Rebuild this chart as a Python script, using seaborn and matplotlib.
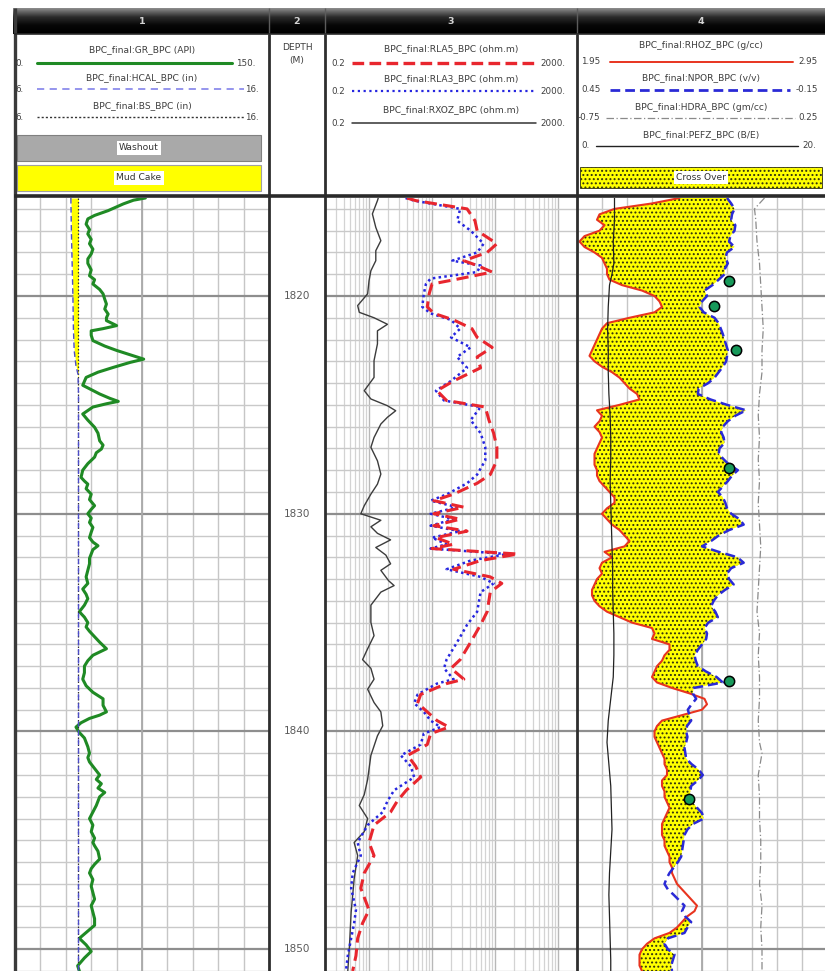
import numpy as np
import matplotlib
matplotlib.use("Agg")
import matplotlib.pyplot as plt
import seaborn as sns
from matplotlib.patches import Rectangle
from matplotlib.colors import LinearSegmentedColormap
from matplotlib.ticker import LogLocator, MultipleLocator, FixedLocator, NullFormatter

DEPTH_LABELS = [1820, 1830, 1840, 1850]

GR_DEPTH = [1815.5, 1815.6, 1815.77, 1816.08, 1816.3, 1816.46, 1816.7, 1816.95, 1817.15, 1817.4,
            1817.6, 1817.85, 1818.07, 1818.3, 1818.5, 1818.8, 1819.07, 1819.25, 1819.45, 1819.7,
            1819.9, 1820.15, 1820.37, 1820.6, 1820.83, 1821.0, 1821.13, 1821.36, 1821.5, 1821.6,
            1821.8, 1822.05, 1822.3, 1822.5, 1822.75, 1822.9, 1823.05, 1823.28, 1823.5, 1823.74,
            1824.1, 1824.3, 1824.5, 1824.7, 1824.84, 1824.95, 1825.1, 1825.42, 1825.7, 1826.03,
            1826.3, 1826.65, 1826.85, 1827.03, 1827.2, 1827.4, 1827.7, 1828.0, 1828.33, 1828.5,
            1828.64, 1828.85, 1829.1, 1829.35, 1829.63, 1829.8, 1830.0, 1830.2, 1830.4, 1830.63,
            1830.85, 1831.1, 1831.3, 1831.47, 1831.65, 1831.85, 1832.05, 1832.3, 1832.6, 1832.9,
            1833.2, 1833.46, 1833.7, 1833.9, 1834.2, 1834.5, 1834.75, 1835.0, 1835.2, 1835.4,
            1835.65, 1835.9, 1836.05, 1836.2, 1836.35, 1836.5, 1836.75, 1837.0, 1837.3, 1837.6,
            1837.9, 1838.2, 1838.35, 1838.5, 1838.8, 1839.1, 1839.25, 1839.4, 1839.6, 1839.8,
            1840.05, 1840.3, 1840.5, 1840.7, 1841.0, 1841.2, 1841.4, 1841.7, 1842.0, 1842.2,
            1842.4, 1842.6, 1842.8, 1843.0, 1843.2, 1843.4, 1843.7, 1844.0, 1844.3, 1844.6,
            1844.9, 1845.1, 1845.25, 1845.5, 1845.86, 1846.1, 1846.3, 1846.5, 1846.8, 1847.1,
            1847.4, 1847.7, 1848.0, 1848.3, 1848.6, 1848.9, 1849.1, 1849.3, 1849.5, 1849.8,
            1850.1, 1850.4, 1850.76, 1851.0]
GR = [77, 70, 64, 55, 47, 43, 42, 44, 43, 45,
      44, 46, 45, 43, 43, 45, 44, 47, 46, 50,
      52, 53, 54, 53, 55, 54, 54, 60, 52, 45,
      45, 46, 53, 60, 70, 76, 68, 58, 49, 42,
      40, 45, 50, 56, 61, 54, 46, 40, 43, 47,
      49, 50, 52, 51, 48, 47, 43, 40, 39, 41,
      43, 42, 45, 44, 47, 45, 43, 45, 44, 46,
      45, 44, 46, 49, 46, 45, 44, 44, 43, 42,
      43, 40, 42, 43, 41, 38, 41, 43, 42, 44,
      47, 50, 52, 54, 50, 46, 43, 41, 41, 40,
      42, 46, 49, 52, 52, 54, 50, 44, 39, 36,
      38, 41, 42, 43, 44, 43, 44, 47, 50, 48,
      51, 49, 53, 50, 49, 48, 46, 44, 46, 45,
      47, 46, 47, 49, 50, 47, 45, 44, 46, 45,
      46, 47, 45, 46, 47, 47, 44, 41, 38, 42,
      45, 41, 37, 38]

HCAL_DEPTH = [1815.5, 1817.0, 1818.5, 1820.0, 1821.5, 1822.5, 1823.2, 1823.6, 1824.5, 1851.0]
HCAL = [8.2, 8.22, 8.25, 8.28, 8.3, 8.33, 8.4, 8.48, 8.5, 8.5]
BS_DEPTH = [1815.5, 1851.0]
BS = [8.5, 8.5]

RES_DEPTH = [1815.5, 1815.62, 1816.0, 1816.54, 1817.0, 1817.6, 1818.0, 1818.38, 1818.6, 1818.9,
             1819.2, 1819.45, 1819.9, 1820.5, 1820.8, 1821.1, 1821.5, 1821.9, 1822.36, 1822.8,
             1823.3, 1823.9, 1824.35, 1824.8, 1825.1, 1825.7, 1826.3, 1826.95, 1827.55, 1828.2,
             1828.6, 1829.1, 1829.4, 1829.7, 1830.0, 1830.25, 1830.55, 1830.8, 1831.1, 1831.4,
             1831.6, 1831.85, 1832.15, 1832.55, 1832.9, 1833.2, 1833.6, 1834.5, 1835.1, 1835.9,
             1836.7, 1837.1, 1837.6, 1837.8, 1838.3, 1838.7, 1839.1, 1839.5, 1839.8, 1840.1,
             1840.6, 1841.1, 1841.6, 1842.1, 1842.7, 1843.2, 1843.7, 1844.3, 1845.1, 1845.7,
             1846.5, 1847.2, 1848.2, 1848.8, 1849.5, 1850.3, 1851.0]
RLA5 = [4.0, 5.5, 36, 48, 52, 107, 75, 32, 52, 90,
        28, 10, 9, 8.4, 10.7, 22, 43, 52, 90, 52,
        59, 22, 12, 17, 70, 80, 95, 107, 107, 84,
        52, 22, 10.7, 32, 10.7, 28, 10.7, 36, 11.5, 22,
        10, 230, 59, 22, 84, 128, 84, 75, 59, 41,
        28, 20, 32, 17, 6.6, 5.9, 8.4, 12, 18.5, 9.5,
        8.4, 4.1, 5.5, 6.6, 3.9, 2.8, 2.2, 1.2, 1.0, 1.2,
        0.84, 0.74, 1.0, 0.79, 0.66, 0.62, 0.55]
RLA3 = [3.8, 5.2, 28, 25, 41, 66, 52, 21, 59, 52,
        9.5, 8, 7.4, 7, 9.5, 20, 28, 20, 41, 25,
        36, 20, 11.5, 15.5, 59, 41, 59, 70, 70, 52,
        36, 17.4, 9.5, 25, 9.5, 22, 9.5, 28, 10, 17,
        9.5, 155, 41, 17, 59, 95, 59, 52, 36, 25,
        17, 15.5, 22, 12, 5.9, 5.2, 7.4, 9.5, 13.6, 7.4,
        6.6, 3.2, 4.6, 5.2, 2.5, 1.96, 1.65, 0.95, 0.66, 0.74,
        0.55, 0.52, 0.62, 0.58, 0.52, 0.46, 0.43]

RXOZ_DEPTH = [1815.5, 1815.62, 1816.23, 1816.85, 1817.46, 1817.92, 1818.38, 1818.84, 1819.3, 1819.9,
              1820.44, 1820.75, 1821.0, 1821.3, 1821.6, 1822.2, 1822.97, 1823.74, 1824.35, 1824.73,
              1825.04, 1825.27, 1825.57, 1825.88, 1826.5, 1826.95, 1827.57, 1828.18, 1828.64, 1829.1,
              1829.63, 1830.0, 1830.3, 1830.6, 1830.9, 1831.2, 1831.55, 1831.9, 1832.3, 1832.6,
              1833.08, 1833.3, 1833.6, 1834.2, 1834.99, 1835.6, 1836.2, 1836.7, 1837.1, 1837.6,
              1838.06, 1838.67, 1839.1, 1839.74, 1840.2, 1841.1, 1842.2, 1842.9, 1843.4, 1844.0,
              1844.6, 1845.1, 1845.7, 1846.78, 1848.3, 1849.8, 1851.0]
RXOZ = [1.4, 1.36, 1.13, 1.28, 1.54, 1.28, 1.28, 1.07, 1.0, 0.95,
        0.66, 0.7, 1.2, 1.96, 1.36, 1.36, 1.2, 1.2, 0.84, 1.07,
        1.96, 2.65, 1.96, 1.54, 1.2, 1.07, 1.36, 1.54, 1.36, 1.07,
        0.84, 0.74, 1.54, 1.07, 1.36, 2.2, 1.28, 1.85, 2.2, 1.54,
        2.05, 2.5, 1.54, 1.07, 1.07, 1.2, 0.95, 0.79, 1.07, 1.2,
        0.95, 1.2, 1.54, 1.65, 1.36, 1.07, 0.95, 0.84, 0.7, 0.95,
        0.84, 0.58, 0.66, 0.58, 0.52, 0.49, 0.46]

# track 4 curves share one depth column, 0.25 m apart
DEPTH4 = np.arange(1815.5, 1851.0 + 0.125, 0.25)
RHOZ = [2.36, 2.25,
        2.10, 2.04, 2.03, 2.06,   # 1816
        2.04, 1.98, 1.96, 1.98,
        2.02, 2.05, 2.06, 2.07,
        2.07, 2.08, 2.13, 2.21,
        2.26, 2.28, 2.29, 2.26,   # 1820
        2.16, 2.07, 2.05, 2.04,
        2.03, 2.02, 2.01, 2.00,
        2.02, 2.05, 2.09, 2.12,
        2.14, 2.16, 2.19, 2.20,
        2.12, 2.03, 2.05, 2.04,   # 1825
        2.02, 2.04, 2.05, 2.04,
        2.03, 2.02, 2.02, 2.02,
        2.03, 2.03, 2.04, 2.06,
        2.08, 2.10, 2.10, 2.07,
        2.05, 2.07, 2.09, 2.12,   # 1830
        2.14, 2.16, 2.14, 2.06,
        2.09, 2.05, 2.04, 2.05,
        2.03, 2.02, 2.01, 2.01,
        2.02, 2.04, 2.07, 2.12,
        2.17, 2.25, 2.26, 2.25,   # 1835
        2.32, 2.32, 2.30, 2.29,
        2.27, 2.26, 2.25, 2.27,
        2.33, 2.40, 2.46, 2.47,
        2.45, 2.37, 2.29, 2.27,
        2.26, 2.26, 2.27, 2.28,   # 1840
        2.29, 2.30, 2.30, 2.31,
        2.31, 2.29, 2.29, 2.30,
        2.30, 2.31, 2.32, 2.31,
        2.30, 2.29, 2.29, 2.29,
        2.30, 2.30, 2.31, 2.32,   # 1845
        2.32, 2.33, 2.33, 2.34,
        2.35, 2.37, 2.39, 2.41,
        2.43, 2.42, 2.39, 2.37,
        2.35, 2.32, 2.26, 2.23,
        2.21, 2.20, 2.20, 2.20,   # 1850
        2.21]
NPOR = [0.090, 0.080,
        0.072, 0.078, 0.080, 0.070,   # 1816
        0.072, 0.082, 0.085, 0.072,
        0.090, 0.094, 0.088, 0.095,
        0.096, 0.110, 0.125, 0.144,
        0.138, 0.150, 0.156, 0.146,   # 1820
        0.120, 0.110, 0.105, 0.100,
        0.096, 0.092, 0.088, 0.090,
        0.092, 0.100, 0.110, 0.120,
        0.135, 0.158, 0.160, 0.130,
        0.090, 0.044, 0.070, 0.088,   # 1825
        0.100, 0.104, 0.098, 0.096,
        0.108, 0.110, 0.098, 0.085,
        0.064, 0.078, 0.088, 0.100,
        0.112, 0.100, 0.094, 0.090,
        0.080, 0.060, 0.050, 0.085,   # 1830
        0.110, 0.128, 0.150, 0.110,
        0.065, 0.050, 0.080, 0.090,
        0.085, 0.074, 0.095, 0.112,
        0.122, 0.128, 0.118, 0.112,
        0.135, 0.144, 0.138, 0.140,   # 1835
        0.150, 0.160, 0.168, 0.165,
        0.160, 0.140, 0.115, 0.100,
        0.170, 0.172, 0.164, 0.175,
        0.184, 0.180, 0.176, 0.186,
        0.188, 0.185, 0.188, 0.192,   # 1840
        0.190, 0.188, 0.175, 0.158,
        0.148, 0.160, 0.176, 0.178,
        0.180, 0.172, 0.162, 0.150,
        0.146, 0.172, 0.185, 0.192,
        0.194, 0.196, 0.198, 0.200,   # 1845
        0.208, 0.218, 0.228, 0.235,
        0.240, 0.232, 0.218, 0.205,
        0.192, 0.198, 0.190, 0.176,
        0.185, 0.192, 0.232, 0.240,
        0.232, 0.216, 0.220, 0.224,   # 1850
        0.222]

HDRA_DEPTH = [1815.5, 1816.0, 1816.5, 1817.5, 1818.5, 1819.5, 1820.5, 1821.5, 1822.5, 1823.5,
              1824.5, 1825.5, 1826.5, 1827.5, 1828.5, 1829.5, 1830.5, 1831.5, 1832.5, 1833.5,
              1834.5, 1835.5, 1836.5, 1837.5, 1838.5, 1839.5, 1840.5, 1841.0, 1842.0, 1843.0,
              1844.0, 1845.0, 1846.0, 1847.0, 1848.0, 1849.0, 1850.0, 1851.0]
HDRA = [0.00, -0.04, -0.035, -0.03, -0.02, -0.015, -0.01, -0.005, -0.01, -0.01,
        -0.02, -0.025, -0.02, -0.025, -0.02, -0.025, -0.02, -0.015, -0.02, -0.025,
        -0.03, -0.02, -0.025, -0.02, -0.02, -0.025, -0.02, -0.01, -0.025, -0.02,
        -0.02, -0.015, -0.015, -0.02, -0.01, -0.015, -0.01, -0.01]

PEFZ_DEPTH = [1815.5, 1816.5, 1817.5, 1818.5, 1819.0, 1819.5, 1820.5, 1821.5, 1822.5, 1823.5,
              1824.5, 1825.5, 1826.5, 1827.5, 1828.5, 1829.5, 1830.5, 1831.5, 1832.5, 1833.5,
              1834.5, 1835.5, 1836.5, 1837.5, 1838.5, 1839.5, 1840.5, 1841.5, 1842.5, 1843.5,
              1844.5, 1845.5, 1846.5, 1847.5, 1848.5, 1849.5, 1850.5, 1851.0]
PEFZ = [3.0, 3.0, 2.9, 2.95, 2.8, 2.6, 2.5, 2.45, 2.5, 2.5,
        2.55, 2.65, 2.7, 2.7, 2.65, 2.7, 2.75, 2.8, 2.85, 2.85,
        2.9, 2.95, 2.95, 2.9, 2.7, 2.5, 2.4, 2.55, 2.7, 2.75,
        2.8, 2.7, 2.6, 2.55, 2.6, 2.65, 2.7, 2.7]

CORE_DEPTH = [1819.3, 1820.45, 1822.5, 1827.88, 1837.67, 1843.1]
CORE_NPOR = [0.085, 0.121, 0.068, 0.085, 0.085, 0.181]

# ---------------- figure ----------------
sns.set_style("white")
plt.rcParams["font.family"] = ["DejaVu Sans"]
plt.rcParams["hatch.linewidth"] = 0.9

W, H = 825, 971
fig = plt.figure(figsize=(W / 100, H / 100), dpi=100)
TOP, BOT = 1815.5, 1851.0
Y0, Y1 = 198, 971
DOTS = "#2e2e10"


def rect(x0, y0, x1, y1):
    return [x0 / W, 1 - y1 / H, (x1 - x0) / W, (y1 - y0) / H]


def track(x0, x1):
    ax = fig.add_axes(rect(x0, Y0, x1, Y1))
    ax.set_ylim(BOT, TOP)
    ax.yaxis.set_major_locator(FixedLocator(DEPTH_LABELS))
    ax.yaxis.set_minor_locator(MultipleLocator(1))
    ax.tick_params(which="both", length=0, labelbottom=False, labelleft=False)
    for s in ax.spines.values():
        s.set_visible(False)
    return ax


def depth_grid(ax):
    ax.grid(which="major", axis="y", color="#8e8e8e", lw=1.6)
    ax.grid(which="minor", axis="y", color="#c9c9c9", lw=1.0)


def twin(ax, lims):
    t = ax.twiny()
    t.set_xlim(*lims)
    t.tick_params(which="both", length=0, labeltop=False, labelbottom=False)
    for s in t.spines.values():
        s.set_visible(False)
    return t


def curve(ax, x, y, **kw):
    sns.lineplot(x=x, y=y, ax=ax, orient="y", sort=False, estimator=None, **kw)


# track 1 : GR + caliper
ax1 = track(15, 269)
ax1.set_xlim(0, 150)
ax1.set_xticks(np.linspace(0, 150, 11))
ax1.grid(which="major", axis="x", color="#c6c6c6", lw=1.0)
ax1.axvline(75, color="#a9a9a9", lw=1.3, zorder=0.6)
depth_grid(ax1)
curve(ax1, GR, GR_DEPTH, color="#1f8a24", linewidth=2.2)
ax1c = twin(ax1, (6, 16))
hc = np.array(HCAL)
ax1c.fill_betweenx(HCAL_DEPTH, hc, BS[0], where=hc < BS[0], interpolate=True,
                   color="#ffff00", lw=0)
curve(ax1c, BS, BS_DEPTH, color="#333333", linewidth=0.9, linestyle=(0, (1.2, 1.6)))
curve(ax1c, HCAL, HCAL_DEPTH, color="#4c4cc8", linewidth=1.0, linestyle=(0, (4, 2.5)))

# track 2 : depth
ax2 = track(269, 325)
for d in DEPTH_LABELS:
    ax2.text(0.5, d, str(d), transform=ax2.get_yaxis_transform(), ha="center",
             va="center", fontsize=7.5, color="#5a5a5a")

# track 3 : resistivity
ax3 = track(325, 577)
ax3.set_xscale("log")
ax3.set_xlim(0.2, 2000)
curve(ax3, RXOZ, RXOZ_DEPTH, color="#3c3c3c", linewidth=1.0)
curve(ax3, RLA3, RES_DEPTH, color="#2626e0", linewidth=1.8, linestyle=(0, (1, 1.3)))
curve(ax3, RLA5, RES_DEPTH, color="#e8262e", linewidth=2.2, linestyle=(0, (4, 2)))
ax3.set_xlim(0.2, 2000)
ax3.xaxis.set_major_locator(LogLocator(base=10, numticks=12))
ax3.xaxis.set_minor_locator(LogLocator(base=10, subs=np.arange(2, 10), numticks=12))
ax3.xaxis.set_minor_formatter(NullFormatter())
ax3.grid(which="major", axis="x", color="#b8b8b8", lw=1.0)
ax3.grid(which="minor", axis="x", color="#d3d3d3", lw=0.9)
depth_grid(ax3)

# track 4 : density / neutron
ax4 = track(577, 827)
ax4.set_xlim(1.95, 2.95)
ax4.set_xticks(np.linspace(1.95, 2.95, 11))
ax4.grid(which="major", axis="x", color="#c6c6c6", lw=1.0)
ax4.axvline(2.45, color="#a9a9a9", lw=1.3, zorder=0.6)
depth_grid(ax4)
ax4n = twin(ax4, (0.45, -0.15))
ax4h = twin(ax4, (-0.75, 0.25))
ax4p = twin(ax4, (0, 20))

# neutron expressed on the density scale, for the cross-over shading
n_lo, n_hi = ax4n.get_xlim()
r_lo, r_hi = ax4.get_xlim()
rho = np.array(RHOZ)
npor_on_rho = r_lo + (np.array(NPOR) - n_lo) / (n_hi - n_lo) * (r_hi - r_lo)
ax4.fill_betweenx(DEPTH4, rho, npor_on_rho, where=rho < npor_on_rho, interpolate=True,
                  facecolor="#ffff00", edgecolor=DOTS, lw=0, hatch="....", zorder=1)
curve(ax4, RHOZ, DEPTH4, color="#e8341f", linewidth=1.5)
curve(ax4n, NPOR, DEPTH4, color="#2a2ad6", linewidth=1.8, linestyle=(0, (4, 2)))
sns.scatterplot(x=CORE_NPOR, y=CORE_DEPTH, ax=ax4n, s=55, color="#17995a",
                edgecolor="black", linewidth=1.1, zorder=6, legend=False)
curve(ax4h, HDRA, HDRA_DEPTH, color="#8a8a8a", linewidth=0.9, linestyle=(0, (6, 2, 1, 2)))
curve(ax4p, PEFZ, PEFZ_DEPTH, color="#222222", linewidth=0.9)

for a in (ax1, ax2, ax3, ax4):
    a.set_ylim(BOT, TOP)
ax1.set_xlim(0, 150)
ax1c.set_xlim(6, 16)
ax3.set_xlim(0.2, 2000)
ax4.set_xlim(1.95, 2.95)
ax4n.set_xlim(0.45, -0.15)
ax4h.set_xlim(-0.75, 0.25)
ax4p.set_xlim(0, 20)

# ---------------- header + frame (pixel layout) ----------------
fr = fig.add_axes([0, 0, 1, 1])
fr.set_facecolor("none")
fr.axis("off")

bar = LinearSegmentedColormap.from_list("bar", ["#8a8a8a", "#2c2c2c", "#060606", "#000000"])
fr.imshow(np.linspace(0, 1, 30)[:, None], cmap=bar, extent=[13, 826, 34, 8], aspect="auto")
fr.set_xlim(0, W)
fr.set_ylim(H, 0)

TXT = "#3f3f3f"
FS = 6.6
for xc, lab in [(142, "1"), (297, "2"), (451, "3"), (701, "4")]:
    fr.text(xc, 21, lab, ha="center", va="center", fontsize=6.8, color="#d4d4d4",
            fontweight="bold")
for xs in (269, 325, 577):
    fr.vlines(xs, 8, 34, color="#5c5c5c", lw=1.0)
    fr.vlines(xs, 34, H, color="#2e2e2e", lw=2.0)
fr.vlines(14.5, 8, H, color="#3a3a3a", lw=2.4)
fr.hlines(34, 14, W, color="#2a2a2a", lw=1.2)
fr.hlines(196.5, 14, W, color="#2a2a2a", lw=2.6)


def scale_row(y_lab, y_line, name, left, right, x0, x1, lx, rx, xc, **line_kw):
    fr.text(xc, y_lab, name, ha="center", va="center", fontsize=FS, color=TXT)
    fr.text(lx, y_line, left, ha="center", va="center", fontsize=FS - 0.3, color=TXT)
    fr.text(rx, y_line, right, ha="center", va="center", fontsize=FS - 0.3, color=TXT)
    fr.plot([x0, x1], [y_line, y_line], **line_kw)


# track 1 header
scale_row(50, 63, "BPC_final:GR_BPC (API)", "0.", "150.", 37, 232, 19, 246, 142,
          color="#1f8a24", lw=2.2)
scale_row(78, 89, "BPC_final:HCAL_BPC (in)", "6.", "16.", 37, 244, 19, 252, 142,
          color="#8c8cec", lw=1.3, linestyle=(0, (4, 3)))
scale_row(106, 117, "BPC_final:BS_BPC (in)", "6.", "16.", 37, 244, 19, 252, 142,
          color="#333333", lw=1.0, linestyle=(0, (1.5, 1.5)))
fr.add_patch(Rectangle((17, 135), 244, 26, facecolor="#a9a9a9", edgecolor="#808080", lw=0.8))
fr.text(139, 148, "Washout", ha="center", va="center", fontsize=FS, color="#333333",
        bbox=dict(boxstyle="square,pad=0.25", fc="white", ec="none"))
fr.add_patch(Rectangle((17, 165), 244, 26, facecolor="#ffff00", edgecolor="#a0a0a0", lw=0.8))
fr.text(139, 178, "Mud Cake", ha="center", va="center", fontsize=FS, color="#333333",
        bbox=dict(boxstyle="square,pad=0.25", fc="white", ec="none"))

# track 2 header
fr.text(297, 47, "DEPTH", ha="center", va="center", fontsize=FS, color=TXT)
fr.text(297, 60, "(M)", ha="center", va="center", fontsize=FS, color=TXT)

# track 3 header
scale_row(49, 63, "BPC_final:RLA5_BPC (ohm.m)", "0.2", "2000.", 352, 536, 338, 553, 451,
          color="#e8262e", lw=2.4, linestyle=(0, (3.5, 1.6)))
scale_row(79, 91, "BPC_final:RLA3_BPC (ohm.m)", "0.2", "2000.", 352, 536, 338, 553, 451,
          color="#2626e0", lw=1.6, linestyle=(0, (1, 1.6)))
scale_row(110, 123, "BPC_final:RXOZ_BPC (ohm.m)", "0.2", "2000.", 352, 536, 338, 553, 451,
          color="#333333", lw=1.1)

# track 4 header
scale_row(46, 62, "BPC_final:RHOZ_BPC (g/cc)", "1.95", "2.95", 610, 793, 591, 808, 701,
          color="#e8341f", lw=1.4)
scale_row(78, 90, "BPC_final:NPOR_BPC (v/v)", "0.45", "-0.15", 610, 790, 591, 807, 701,
          color="#2a2ad6", lw=2.0, linestyle=(0, (3.5, 1.8)))
scale_row(107, 118, "BPC_final:HDRA_BPC (gm/cc)", "-0.75", "0.25", 606, 795, 589, 808, 701,
          color="#8a8a8a", lw=0.9, linestyle=(0, (6, 2, 1, 2)))
scale_row(135, 146, "BPC_final:PEFZ_BPC (B/E)", "0.", "20.", 596, 798, 585, 809, 701,
          color="#222222", lw=1.0)
fr.add_patch(Rectangle((580, 167), 242, 21, facecolor="#ffff00", edgecolor=DOTS,
                       lw=0.6, hatch="...."))
fr.text(701, 177.5, "Cross Over", ha="center", va="center", fontsize=FS, color="#333333",
        bbox=dict(boxstyle="square,pad=0.2", fc="white", ec="none"))

fig.savefig("out.png", dpi=100)
